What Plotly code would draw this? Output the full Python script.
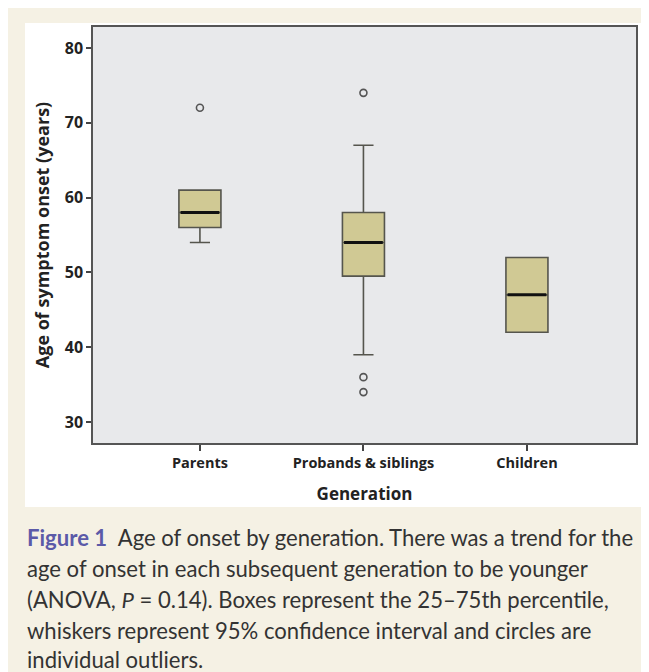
import plotly.graph_objects as go

categories = ["Parents", "Probands & siblings", "Children"]
q1 = [56, 49.5, 42]
median = [58, 54, 47]
q3 = [61, 58, 52]
lower_whisker = [54, 39, 42]
upper_whisker = [61, 67, 52]
outliers = [[72], [74, 36, 34], []]
y_ticks = [30, 40, 50, 60, 70, 80]

caption_lines = [
    "<b><span style='color:#5b5aa8'>Figure 1</span></b>  Age of onset by generation. There was a trend for the",
    "age of onset in each subsequent generation to be younger",
    "(ANOVA, <i>P</i> = 0.14). Boxes represent the 25–75th percentile,",
    "whiskers represent 95% confidence interval and circles are",
    "individual outliers.",
]

# page has an 8px body margin; figure coordinates = page coordinates - 8
W, H = 649, 672
ML, MT = 85, 19
PLOT_R, PLOT_B = 628, 435
MR, MB = W - PLOT_R, H - PLOT_B
PW, PH = W - ML - MR, H - MT - MB

def px_x(p):
    return (p - ML) / PW

def px_y(p):
    return (H - MB - p) / PH

box_w = 0.257
pos = list(range(len(categories)))

fig = go.Figure()
fig.add_trace(go.Box(
    x=pos, q1=q1, median=median, q3=q3,
    lowerfence=lower_whisker, upperfence=upper_whisker,
    width=box_w, whiskerwidth=0.48,
    fillcolor="#d0c994", line=dict(color="#55554d", width=1.6),
    boxpoints=False, showlegend=False, hoverinfo="skip",
))
for i, m in enumerate(median):
    fig.add_trace(go.Scatter(
        x=[i - box_w / 2 + 0.01, i + box_w / 2 - 0.01], y=[m, m], mode="lines",
        line=dict(color="#111111", width=3), showlegend=False, hoverinfo="skip",
    ))
ox, oy = [], []
for i, vals in enumerate(outliers):
    for v in vals:
        ox.append(i)
        oy.append(v)
fig.add_trace(go.Scatter(
    x=ox, y=oy, mode="markers",
    marker=dict(symbol="circle-open", size=7, color="#555555", line=dict(width=1.6)),
    showlegend=False, hoverinfo="skip",
))

shapes = [
    dict(type="rect", xref="paper", yref="paper", x0=px_x(17), x1=px_x(635), y0=px_y(499), y1=px_y(15),
         fillcolor="#ffffff", line=dict(width=0), layer="below"),
    dict(type="rect", xref="paper", yref="paper", x0=0, x1=1, y0=0, y1=1,
         fillcolor="#e8e9eb", line=dict(width=0), layer="below"),
]

annotations = []
caption_y = [529, 560, 591, 622, 651]
for line, yy in zip(caption_lines, caption_y):
    annotations.append(dict(
        text=line, xref="paper", yref="paper", x=px_x(17), y=px_y(yy),
        xanchor="left", yanchor="middle", showarrow=False,
        font=dict(family="Lato", size=22.1, color="#333333"),
    ))

fig.update_layout(
    width=W, height=H,
    margin=dict(l=ML, r=MR, t=MT, b=MB),
    paper_bgcolor="#f5f1e4", plot_bgcolor="rgba(0,0,0,0)",
    shapes=shapes, annotations=annotations,
    font=dict(family="Open Sans", color="#222222"),
    xaxis=dict(
        range=[-0.654, 2.667], tickvals=pos, ticktext=[f"<b>{c}</b>" for c in categories],
        ticks="outside", ticklen=6, tickwidth=1.5, tickcolor="#444444",
        showline=True, linecolor="#555555", linewidth=1.5, mirror=True,
        showgrid=False, zeroline=False, tickfont=dict(size=14.5, color="#222222"),
        title=dict(text="<b>Generation</b>", font=dict(size=17, color="#222222"), standoff=17),
    ),
    yaxis=dict(
        range=[27.2, 82.8], tickvals=y_ticks, ticktext=[f"<b>{t}</b>" for t in y_ticks],
        ticks="outside", ticklen=5, tickwidth=1.5, tickcolor="#444444",
        showline=True, linecolor="#555555", linewidth=1.5, mirror=True,
        showgrid=False, zeroline=False, tickfont=dict(size=16, color="#222222"),
        title=dict(text="<b>Age of symptom onset (years)</b>", font=dict(size=18, color="#222222"), standoff=10),
    ),
)

fig.write_html("out.html", post_script="document.body.style.overflow='hidden';")
